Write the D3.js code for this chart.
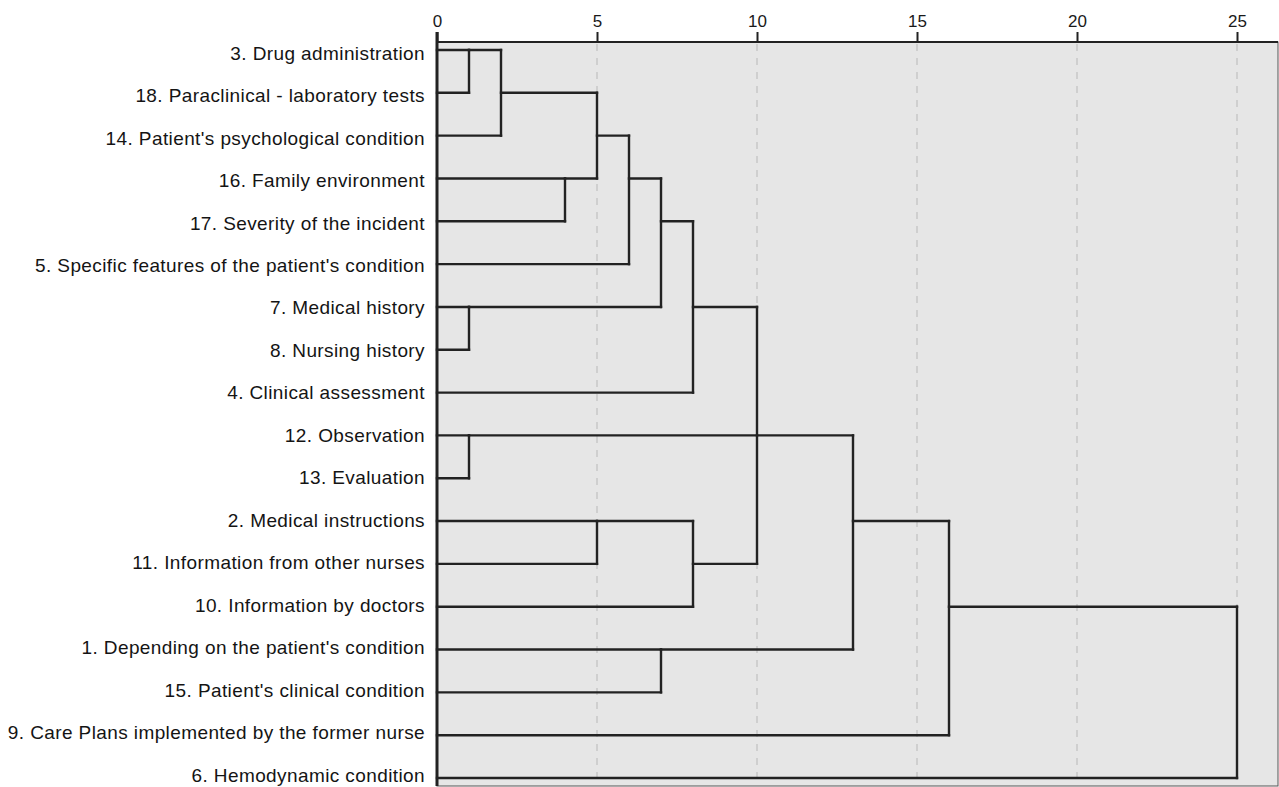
<!DOCTYPE html>
<html>
<head>
<meta charset="utf-8">
<script src="https://cdn.jsdelivr.net/npm/d3@7"></script>
<style>
  html, body { margin: 0; padding: 0; background: #ffffff; }
  svg { display: block; }
  .tick text { font-family: 'Liberation Sans', Arial, sans-serif; font-size: 17px; }
</style>
</head>
<body>
<svg id="chart" width="1279" height="787"></svg>
<script>
// Items in dendrogram order, top to bottom
const leaves = [
  "3. Drug administration",
  "18. Paraclinical - laboratory tests",
  "14. Patient's psychological condition",
  "16. Family environment",
  "17. Severity of the incident",
  "5. Specific features of the patient's condition",
  "7. Medical history",
  "8. Nursing history",
  "4. Clinical assessment",
  "12. Observation",
  "13. Evaluation",
  "2. Medical instructions",
  "11. Information from other nurses",
  "10. Information by doctors",
  "1. Depending on the patient's condition",
  "15. Patient's clinical condition",
  "9. Care Plans implemented by the former nurse",
  "6. Hemodynamic condition"
];

// Agglomeration steps: members are leaf indices ("L<i>") or earlier clusters ("C<k>"),
// dist is the rescaled combining distance (0-25)
const mergeIds      = ["C0", "C1", "C2", "C3", "C4", "C5", "C6", "C7", "C8", "C9", "C10", "C11", "C12", "C13", "C14", "C15"];
const mergeMembers  = [
  ["L0", "L1"],
  ["C0", "L2"],
  ["L3", "L4"],
  ["C1", "C2"],
  ["C3", "L5"],
  ["L6", "L7"],
  ["C4", "C5"],
  ["C6", "L8"],
  ["L9", "L10"],
  ["L11", "L12"],
  ["C9", "L13"],
  ["C7", "C8", "C10"],
  ["L14", "L15"],
  ["C11", "C12"],
  ["C13", "L16"],
  ["C14", "L17"]
];
const mergeDist     = [1, 2, 4, 5, 6, 1, 7, 8, 1, 5, 8, 10, 7, 13, 16, 25];

const axisTicks = [0, 5, 10, 15, 20, 25];

const svg = d3.select("#chart");

const plotLeft = 437, plotRight = 1278, plotTop = 42, plotBottom = 786;

const x = d3.scaleLinear().domain([0, 25]).range([437, 1237]);
const y = d3.scalePoint().domain(d3.range(leaves.length)).range([50, 778]);
// label centres sit a touch apart from the branch rows
const yLabel = d3.scalePoint().domain(d3.range(leaves.length)).range([53, 775]);

// plot background
svg.append("rect")
  .attr("x", plotLeft).attr("y", plotTop)
  .attr("width", plotRight - plotLeft).attr("height", plotBottom - plotTop)
  .attr("fill", "#e6e6e6")
  .attr("stroke", "#555").attr("stroke-width", 1);

// dashed vertical gridlines
svg.append("g")
  .selectAll("line")
  .data(axisTicks.filter(t => t > 0))
  .join("line")
  .attr("x1", d => x(d)).attr("x2", d => x(d))
  .attr("y1", plotTop + 2).attr("y2", plotBottom)
  .attr("stroke", "#c8c8c8")
  .attr("stroke-width", 1.5)
  .attr("stroke-dasharray", "7,7");

// top axis
const axis = d3.axisTop(x).tickValues(axisTicks).tickSize(10).tickPadding(5);
const axisG = svg.append("g")
  .attr("transform", `translate(0,${plotTop})`)
  .call(axis)
  .attr("font-size", 17)
  .attr("font-family", "'Liberation Sans', Arial, sans-serif");
axisG.select(".domain").remove();
axisG.selectAll(".tick line").attr("stroke", "#222").attr("stroke-width", 2);
axisG.selectAll(".tick text").attr("fill", "#1a1a1a");

// build dendrogram segments
const rowOf = {};   // connection row of each leaf / cluster
leaves.forEach((d, i) => { rowOf["L" + i] = i; });
const distOf = {};
leaves.forEach((d, i) => { distOf["L" + i] = 0; });

const segs = [];
mergeIds.forEach((id, k) => {
  const members = mergeMembers[k];
  const d = mergeDist[k];
  const rows = members.map(m => rowOf[m]);
  // horizontal from each member's position out to the merge distance
  members.forEach(m => {
    segs.push({ x1: distOf[m], y1: rowOf[m], x2: d, y2: rowOf[m] });
  });
  const r0 = d3.min(rows), r1 = d3.max(rows);
  segs.push({ x1: d, y1: r0, x2: d, y2: r1 });
  rowOf[id] = Math.floor((r0 + r1) / 2);
  distOf[id] = d;
});

svg.append("g")
  .attr("stroke", "#222")
  .attr("stroke-width", 2.4)
  .attr("stroke-linecap", "square")
  .selectAll("line")
  .data(segs)
  .join("line")
  .attr("x1", s => x(s.x1)).attr("x2", s => x(s.x2))
  .attr("y1", s => y(s.y1)).attr("y2", s => y(s.y2));

// frame lines: left axis and top rule
svg.append("line")
  .attr("x1", plotLeft).attr("x2", plotLeft)
  .attr("y1", plotTop - 10).attr("y2", plotBottom)
  .attr("stroke", "#222").attr("stroke-width", 3);
svg.append("line")
  .attr("x1", plotLeft).attr("x2", plotRight)
  .attr("y1", plotTop).attr("y2", plotTop)
  .attr("stroke", "#222").attr("stroke-width", 2);

// leaf labels
svg.append("g")
  .selectAll("text")
  .data(leaves)
  .join("text")
  .attr("x", 425)
  .attr("y", (d, i) => yLabel(i))
  .attr("dy", "0.35em")
  .attr("text-anchor", "end")
  .attr("fill", "#141414")
  .style("font-family", "'Liberation Sans', Arial, sans-serif")
  .style("font-size", "19px")
  .style("letter-spacing", "0.4px")
  .text(d => d);
</script>
</body>
</html>
